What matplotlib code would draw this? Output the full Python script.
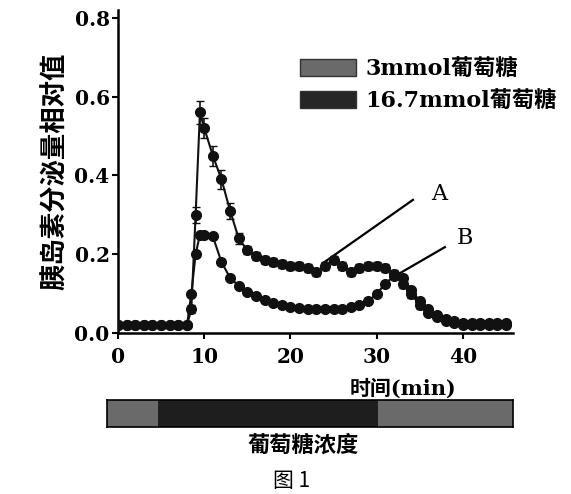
import matplotlib.pyplot as plt
from matplotlib.patches import Patch

plt.rcParams['font.family'] = ['DejaVu Serif', 'Noto Sans CJK SC']
plt.rcParams['font.weight'] = 'bold'

# time (min)
t = [0, 1, 2, 3, 4, 5, 6, 7, 8, 8.5, 9, 9.5, 10, 11, 12, 13, 14, 15, 16, 17,
     18, 19, 20, 21, 22, 23, 24, 25, 26, 27, 28, 29, 30, 31, 32, 33, 34, 35,
     36, 37, 38, 39, 40, 41, 42, 43, 44, 45]

# curve A (upper)
curve_a = [0.02, 0.02, 0.02, 0.02, 0.02, 0.02, 0.02, 0.02, 0.02, 0.06, 0.30,
           0.56, 0.52, 0.45, 0.39, 0.31, 0.24, 0.21, 0.195, 0.185, 0.18,
           0.175, 0.17, 0.17, 0.165, 0.155, 0.17, 0.185, 0.17, 0.155, 0.165,
           0.17, 0.17, 0.165, 0.15, 0.125, 0.10, 0.07, 0.05, 0.04, 0.03,
           0.025, 0.02, 0.02, 0.02, 0.02, 0.02, 0.02]
err_a = [0.005, 0.005, 0.005, 0.005, 0.005, 0.005, 0.005, 0.005, 0.005, 0.01,
         0.02, 0.03, 0.025, 0.025, 0.025, 0.02, 0.015, 0.01, 0.01, 0.01, 0.01,
         0.01, 0.01, 0.01, 0.01, 0.01, 0.01, 0.01, 0.01, 0.01, 0.01, 0.01,
         0.01, 0.01, 0.01, 0.01, 0.01, 0.01, 0.005, 0.005, 0.005, 0.005,
         0.005, 0.005, 0.005, 0.005, 0.005, 0.005]

# curve B (lower)
curve_b = [0.02, 0.02, 0.02, 0.02, 0.02, 0.02, 0.02, 0.02, 0.02, 0.10, 0.20,
           0.25, 0.25, 0.245, 0.18, 0.14, 0.12, 0.105, 0.095, 0.085, 0.075,
           0.07, 0.065, 0.063, 0.062, 0.06, 0.06, 0.06, 0.062, 0.065, 0.07,
           0.08, 0.10, 0.125, 0.145, 0.14, 0.11, 0.08, 0.06, 0.045, 0.035,
           0.03, 0.025, 0.025, 0.025, 0.025, 0.025, 0.025]

# glucose concentration bar (segment edges in min)
conc_edges = [-1.3, 4.6, 30.1, 45.8]
conc_colors = ['#6a6a6a', '#1e1e1e', '#6a6a6a']

legend_labels = ['3mmol葡萄糖', '16.7mmol葡萄糖']
legend_colors = ['#6a6a6a', '#262626']

yticks = [0.0, 0.2, 0.4, 0.6, 0.8]
xticks = [0, 10, 20, 30, 40]

fig = plt.figure(figsize=(5.71, 4.94), dpi=100)
ax = fig.add_axes([118 / 571, 161 / 494, 395 / 571, 323 / 494])

ax.errorbar(t, curve_a, yerr=err_a, color='#111111', lw=1.5, marker='o',
            ms=7, capsize=3, elinewidth=1.2, zorder=3)
ax.errorbar(t, curve_b, yerr=0.006, color='#111111', lw=1.5, marker='o',
            ms=7, capsize=2, elinewidth=1, zorder=3)

ax.set_xlim(0, 45.8)
ax.set_ylim(0, 0.82)
ax.set_xticks(xticks)
ax.set_xticklabels([str(x) for x in xticks])
ax.set_yticks(yticks)
ax.set_yticklabels(['%.1f' % y for y in yticks])
ax.tick_params(direction='out', length=4, width=1.5, labelsize=14.5, pad=2)
ax.tick_params(axis='x', pad=6)
for s in ['top', 'right']:
    ax.spines[s].set_visible(False)
for s in ['left', 'bottom']:
    ax.spines[s].set_linewidth(1.8)

ax.set_ylabel('胰岛素分泌量相对值', fontsize=19, fontweight='bold',
              family=['Noto Sans CJK SC'], labelpad=4)
ax.text(33, -0.14, '时间(min)', fontsize=15, ha='center', va='center')

# annotation lines
ax.plot([23.8, 34.2], [0.178, 0.338], color='black', lw=1.6)
ax.plot([32.7, 37.9], [0.152, 0.218], color='black', lw=1.6)
ax.text(37.2, 0.352, 'A', fontsize=16, fontweight='normal', ha='center',
        va='center')
ax.text(40.2, 0.242, 'B', fontsize=16, fontweight='normal', ha='center',
        va='center')

handles = [Patch(facecolor=c, edgecolor='#333333') for c in legend_colors]
ax.legend(handles, legend_labels, loc='upper left',
          bbox_to_anchor=(300 / 571, 1 - 58 / 494),
          bbox_transform=fig.transFigure, frameon=False, borderaxespad=0,
          borderpad=0, handlelength=2.5, handleheight=0.8,
          handletextpad=0.45, labelspacing=0.45,
          prop={'size': 16, 'weight': 'bold'})

# glucose concentration bar
bax = fig.add_axes([107 / 571, 67 / 494, 406 / 571, 27 / 494])
for i in range(len(conc_colors)):
    bax.barh(0, conc_edges[i + 1] - conc_edges[i], left=conc_edges[i],
             height=1, color=conc_colors[i], edgecolor='none')
bax.set_xlim(conc_edges[0], conc_edges[-1])
bax.set_ylim(-0.5, 0.5)
bax.set_xticks([])
bax.set_yticks([])
for s in bax.spines.values():
    s.set_linewidth(1.2)

fig.text(303 / 571, 1 - 445 / 494, '葡萄糖浓度', fontsize=16,
         ha='center', va='center', family=['Noto Sans CJK SC'])
fig.text(292 / 571, 1 - 481 / 494, '图 1', fontsize=15, fontweight='normal',
         ha='center', va='center', family=['Noto Sans CJK SC'])

fig.savefig('out.png', dpi=100)
